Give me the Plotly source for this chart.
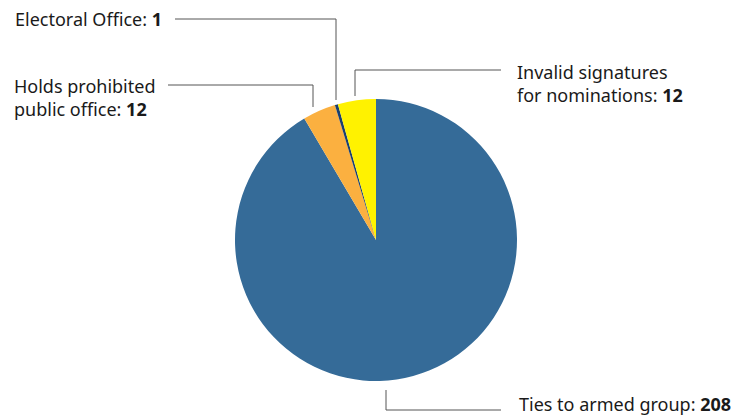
import plotly.graph_objects as go

W, H = 736, 419

labels = ["Ties to armed group", "Holds prohibited public office", "Electoral Office", "Invalid signatures for nominations"]
label_counts = [208, 12, 1, 12]
# slice sizes as drawn in the picture (the drawn wedges are not exactly proportional to the counts)
slice_values = [208, 8.6, 0.8, 9.9]
colors = ["#356b98", "#fbb040", "#1b3f6e", "#fff200"]
label_texts = ["Ties to armed group: <b>%d</b>" % label_counts[0],
               "Holds prohibited<br>public office: <b>%d</b>" % label_counts[1],
               "Electoral Office: <b>%d</b>" % label_counts[2],
               "Invalid signatures<br>for nominations: <b>%d</b>" % label_counts[3]]

def px(x):
    return x / W

def py(y):
    return 1 - y / H

cx, cy, r = 376, 240, 141

fig = go.Figure(go.Pie(
    labels=labels, values=slice_values, sort=False, direction="clockwise", rotation=0,
    marker=dict(colors=colors, line=dict(width=0)),
    textinfo="none", hoverinfo="label", showlegend=False,
    domain=dict(x=[px(cx - r), px(cx + r)], y=[py(cy + r), py(cy - r)]),
))

line_paths = [
    [(386, 390), (386, 410), (501, 410)],
    [(168, 85), (313, 85), (313, 107)],
    [(175, 19), (336, 19), (336, 100)],
    [(355, 96), (355, 70), (501, 70)],
]
text_pos = [(517, 404), (12, 97), (13, 19), (515, 84)]

shapes = []
for path in line_paths:
    d = "M " + " L ".join(f"{px(x)},{py(y)}" for x, y in path)
    shapes.append(dict(type="path", path=d, xref="paper", yref="paper",
                       line=dict(color="#555555", width=1)))

annotations = []
for t, (x, y) in zip(label_texts, text_pos):
    annotations.append(dict(text=t, x=px(x), y=py(y), xref="paper", yref="paper",
                            xanchor="left", yanchor="middle", showarrow=False, align="left",
                            font=dict(family="Noto Sans", size=18, color="#1a1a1a")))

fig.update_layout(width=W, height=H, margin=dict(l=0, r=0, t=0, b=0),
                  paper_bgcolor="white", plot_bgcolor="white",
                  shapes=shapes, annotations=annotations)

fig.write_html("out.html")
